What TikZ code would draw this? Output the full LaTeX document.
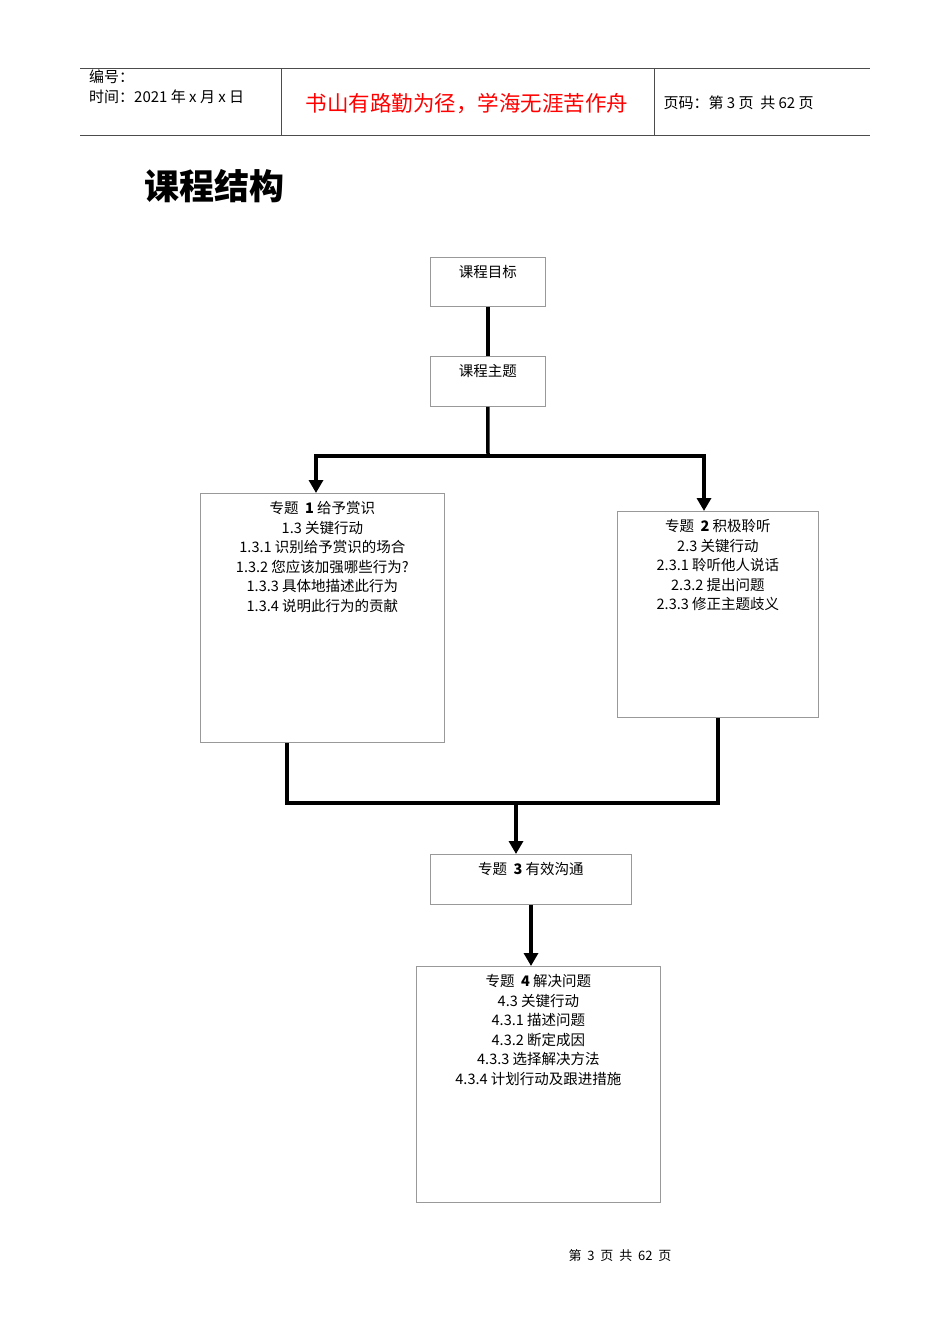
\documentclass[tikz,border=0pt]{standalone}
\usepackage{fontspec}
\setmainfont{Liberation Serif}
\newfontfamily\cjk{Noto Sans CJK SC}
\usetikzlibrary{arrows.meta,positioning}
\tikzset{>={Triangle[length=13pt,width=14pt]}}
\tikzset{
  box/.style={draw=black!40,line width=0.8pt,anchor=north west,inner sep=0pt},
  boxtext/.style={anchor=north,align=center,inner sep=0pt,font=\cjk\fontsize{14.5}{19.6}\selectfont},
  link/.style={line width=3.5pt},
  rule/.style={draw=black!70,line width=1pt},
}
\begin{document}
\begin{tikzpicture}[x=1pt,y=-1pt]
    \useasboundingbox (0,0) rectangle (950,1344);
    % header
    \draw[rule] (80,68) -- (870,68);
    \draw[rule] (80,135) -- (870,135);
    \draw[rule] (281,68) -- (281,135);
    \draw[rule] (654,68) -- (654,135);
    \node[anchor=north west,align=left,inner sep=0pt,font=\cjk\fontsize{15}{20}\selectfont] (hdr) at (89,70) {编号：\\时间：2021 年 x 月 x 日};
    \node[text=red,font=\cjk\fontsize{21.5}{24}\selectfont] (motto) at (467,104) {书山有路勤为径，学海无涯苦作舟};
    \node[anchor=west,font=\cjk\fontsize{15}{18}\selectfont] (pg) at (660,103) {页码：第 3 页\ \ 共 62 页};
    \node[anchor=west,inner sep=0pt,font=\cjk\bfseries\fontsize{35}{40}\selectfont] (title) at (144,186) {课程结构};
    % boxes
    \node[box,minimum width=115,minimum height=49] (goal) at (430,257) {};
    \node[boxtext] at ([yshift=-8]goal.north) {课程目标};
    \node[box,minimum width=115,minimum height=50] (theme) at (430,356) {};
    \node[boxtext] at ([yshift=-8]theme.north) {课程主题};
    \node[box,minimum width=244,minimum height=249] (t1) at (200,493) {};
    \node[boxtext] at ([yshift=-8]t1.north) {专题\ \ \textbf{1}\ 给予赏识\\1.3\ 关键行动\\1.3.1\ 识别给予赏识的场合\\1.3.2\ 您应该加强哪些行为?\\1.3.3\ 具体地描述此行为\\1.3.4\ 说明此行为的贡献};
    \node[box,minimum width=201,minimum height=206] (t2) at (617,511) {};
    \node[boxtext] at ([yshift=-8]t2.north) {专题\ \ \textbf{2}\ 积极聆听\\2.3\ 关键行动\\2.3.1\ 聆听他人说话\\2.3.2\ 提出问题\\2.3.3\ 修正主题歧义};
    \node[box,minimum width=201,minimum height=50] (t3) at (430,854) {};
    \node[boxtext] at ([yshift=-8]t3.north) {专题\ \ \textbf{3}\ 有效沟通};
    \node[box,minimum width=244,minimum height=236] (t4) at (416,966) {};
    \node[boxtext] at ([yshift=-8]t4.north) {专题\ \ \textbf{4}\ 解决问题\\4.3\ 关键行动\\4.3.1\ 描述问题\\4.3.2\ 断定成因\\4.3.3\ 选择解决方法\\4.3.4\ 计划行动及跟进措施};
    % connectors
    \coordinate (split) at (488,456);
    \coordinate (join) at (516,803);
    \draw[link] (goal.south) -- (theme.north);
    \draw[link] (theme.south) -- (split);
    \draw[link,->] (split) -| (t1.north -| 316,0);
    \draw[link,->] (split) -| (t2.north -| 704,0);
    \draw[link] (t1.south -| 287,0) |- (join);
    \draw[link] (t2.south -| 718,0) |- (join);
    \draw[link,->] (join) -- (t3.north -| join);
    \draw[link,->] (t3.south -| 531,0) -- (t4.north -| 531,0);
    % footer
    \node[font=\cjk\fontsize{13}{16}\selectfont] (foot) at (620,1256) {第\ \ 3\ \ 页\ \ 共\ \ 62\ \ 页};
\end{tikzpicture}
\end{document}
